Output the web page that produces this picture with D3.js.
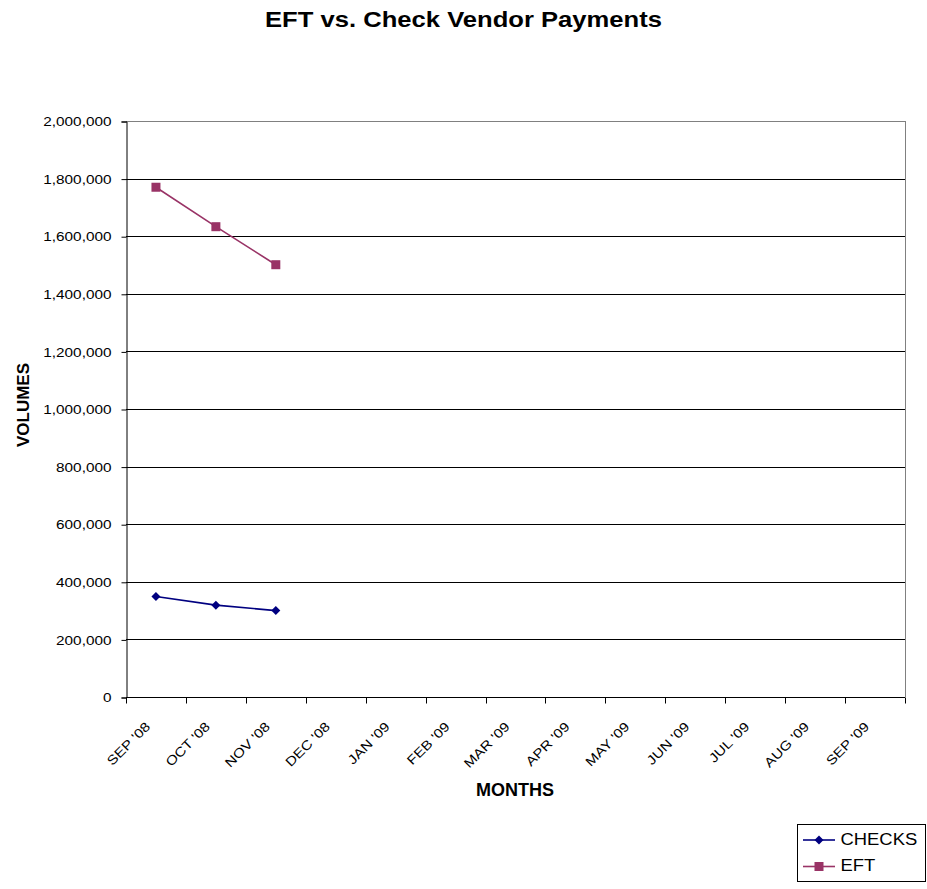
<html>
<head>
    <title>EFT vs. Check Vendor Payments</title>
    <script src="https://d3js.org/d3.v7.min.js"></script>
    <style>
        body { margin: 0; background: #fff; }
        text { font-family: "Liberation Sans", Arial, sans-serif; }
    </style>
</head>
<body>
    <script>
        const months = ["SEP '08", "OCT '08", "NOV '08", "DEC '08", "JAN '09", "FEB '09", "MAR '09",
                        "APR '09", "MAY '09", "JUN '09", "JUL '09", "AUG '09", "SEP '09"]
        const checks = [349000, 319000, 300000]
        const eft = [1770000, 1633000, 1501000]
        const yTicks = [0, 200000, 400000, 600000, 800000, 1000000, 1200000, 1400000, 1600000, 1800000, 2000000]

        const width = 927, height = 889
        const plotLeft = 126, plotRight = 905, plotTop = 121, plotBottom = 697

        // the original text is a bit wider than Liberation Sans at the same height
        function stretch(sel, k) {
            sel.each(function () {
                const len = this.getComputedTextLength()
                d3.select(this)
                    .attr('textLength', len * k)
                    .attr('lengthAdjust', 'spacingAndGlyphs')
            })
        }

        const svg = d3.select('body').append('svg')
            .attr('width', width)
            .attr('height', height)

        const x = d3.scaleBand()
            .domain(months)
            .range([plotLeft, plotRight])

        const y = d3.scaleLinear()
            .domain([0, 2000000])
            .range([plotBottom, plotTop])

        // gridlines
        svg.append('g')
            .selectAll('line')
            .data(yTicks.slice(1))
            .enter()
            .append('line')
            .attr('x1', plotLeft)
            .attr('x2', plotRight)
            .attr('y1', d => Math.round(y(d)) + 0.5)
            .attr('y2', d => Math.round(y(d)) + 0.5)
            .attr('stroke', (d, i) => i === yTicks.length - 2 ? '#808080' : '#000')
            .attr('stroke-width', 1)

        // right border
        svg.append('line')
            .attr('x1', plotRight + 0.5).attr('x2', plotRight + 0.5)
            .attr('y1', plotTop).attr('y2', plotBottom)
            .attr('stroke', '#808080')

        // y axis
        const yAxis = svg.append('g')
            .attr('transform', 'translate(' + (plotLeft + 0.5) + ',0.5)')
            .call(d3.axisLeft(y).tickValues(yTicks).tickSize(5).tickPadding(10)
                .tickFormat(d3.format(',')))
        yAxis.select('.domain').attr('stroke', '#000')
        yAxis.selectAll('.tick line').attr('stroke', '#000')
        yAxis.selectAll('text')
            .attr('font-size', 13)
            .attr('fill', '#000')
            .style('font-family', '"Liberation Sans", Arial, sans-serif')
            .call(stretch, 1.18)

        // x axis
        const xAxis = svg.append('g')
            .attr('transform', 'translate(0,' + (plotBottom + 0.5) + ')')
        xAxis.append('line')
            .attr('x1', plotLeft).attr('x2', plotRight)
            .attr('stroke', '#000')
        const bounds = months.map(m => x(m)).concat([plotRight])
        xAxis.selectAll('.tk')
            .data(bounds)
            .enter()
            .append('line')
            .attr('class', 'tk')
            .attr('x1', d => Math.round(d) + 0.5)
            .attr('x2', d => Math.round(d) + 0.5)
            .attr('y1', 0)
            .attr('y2', 6)
            .attr('stroke', '#000')
        xAxis.selectAll('.lbl')
            .data(months)
            .enter()
            .append('text')
            .attr('class', 'lbl')
            .attr('text-anchor', 'end')
            .attr('font-size', 13)
            .attr('transform', d => 'translate(' + (x(d) + x.bandwidth() / 2 - 5) + ',30) rotate(-45)')
            .text(d => d)
            .call(stretch, 1.18)

        // titles
        svg.append('text')
            .attr('x', 463.5).attr('y', 27)
            .attr('text-anchor', 'middle')
            .attr('font-size', 21.5)
            .attr('font-weight', 'bold')
            .attr('textLength', 397)
            .attr('lengthAdjust', 'spacingAndGlyphs')
            .text('EFT vs. Check Vendor Payments')

        svg.append('text')
            .attr('x', 515).attr('y', 796)
            .attr('text-anchor', 'middle')
            .attr('font-size', 18)
            .attr('font-weight', 'bold')
            .text('MONTHS')

        svg.append('text')
            .attr('transform', 'translate(29,405) rotate(-90)')
            .attr('text-anchor', 'middle')
            .attr('font-size', 17)
            .attr('font-weight', 'bold')
            .text('VOLUMES')

        // series
        const cx = i => x(months[i]) + x.bandwidth() / 2
        const line = d3.line()
            .x((d, i) => cx(i))
            .y(d => y(d))

        const diamond = 'M0,-4.5L4.5,0L0,4.5L-4.5,0Z'

        svg.append('path')
            .datum(checks)
            .attr('d', line)
            .attr('fill', 'none')
            .attr('stroke', '#000080')
            .attr('stroke-width', 1.6)
        svg.selectAll('.chk')
            .data(checks)
            .enter()
            .append('path')
            .attr('class', 'chk')
            .attr('d', diamond)
            .attr('transform', (d, i) => 'translate(' + cx(i) + ',' + y(d) + ')')
            .attr('fill', '#000080')

        svg.append('path')
            .datum(eft)
            .attr('d', line)
            .attr('fill', 'none')
            .attr('stroke', '#993366')
            .attr('stroke-width', 1.6)
        svg.selectAll('.eft')
            .data(eft)
            .enter()
            .append('rect')
            .attr('class', 'eft')
            .attr('x', (d, i) => cx(i) - 4.5)
            .attr('y', d => y(d) - 4.5)
            .attr('width', 9)
            .attr('height', 9)
            .attr('fill', '#993366')

        // legend
        const legend = svg.append('g')
        legend.append('rect')
            .attr('x', 797.5).attr('y', 824.5)
            .attr('width', 128).attr('height', 57)
            .attr('fill', '#fff')
            .attr('stroke', '#000')
        const items = [
            { name: 'CHECKS', color: '#000080', y: 840, shape: 'diamond' },
            { name: 'EFT', color: '#993366', y: 866.5, shape: 'square' }
        ]
        items.forEach(it => {
            legend.append('line')
                .attr('x1', 803).attr('x2', 835)
                .attr('y1', it.y).attr('y2', it.y)
                .attr('stroke', it.color)
                .attr('stroke-width', 1.6)
            if (it.shape === 'diamond') {
                legend.append('path')
                    .attr('d', diamond)
                    .attr('transform', 'translate(819,' + it.y + ')')
                    .attr('fill', it.color)
            } else {
                legend.append('rect')
                    .attr('x', 814.5).attr('y', it.y - 4.5)
                    .attr('width', 9).attr('height', 9)
                    .attr('fill', it.color)
            }
            legend.append('text')
                .attr('x', 840.5).attr('y', it.y + 4.5)
                .attr('font-size', 16)
                .text(it.name)
                .call(stretch, 1.15)
        })
    </script>
</body>
</html>
